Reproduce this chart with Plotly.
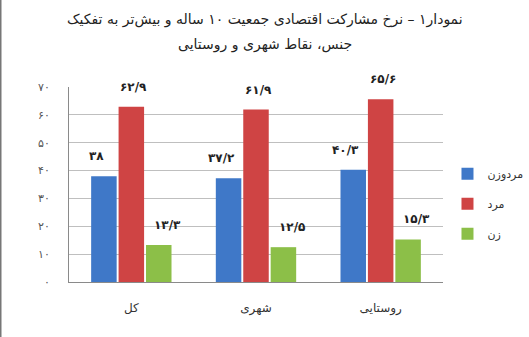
import plotly.graph_objects as go

categories = ["کل", "شهری", "روستایی"]
series_names = ["مردوزن", "مرد", "زن"]
both_values = [38.0, 37.2, 40.3]
male_values = [62.9, 61.9, 65.6]
female_values = [13.3, 12.5, 15.3]
y_ticks = [0, 10, 20, 30, 40, 50, 60, 70]
title_lines = ["نمودار۱ – نرخ مشارکت اقتصادی جمعیت ۱۰ ساله و بیش‌تر به تفکیک",
               "جنس، نقاط شهری و روستایی"]

colors = ["#3F78C8", "#CF4444", "#8CBF48"]
FONT = "DejaVu Sans"

def fa(v):
    s = ("%g" % v).replace(".", "/")
    return s.translate(str.maketrans("0123456789", "۰۱۲۳۴۵۶۷۸۹"))

fig = go.Figure()
all_series = [both_values, male_values, female_values]
for name, vals, col in zip(series_names, all_series, colors):
    fig.add_trace(go.Bar(
        x=categories, y=vals, name=name,
        marker=dict(color=col, line=dict(width=0)),
        legendgroup=name,
    ))

label_shift = [-35, 2, 36]
for vals, xs in zip(all_series, label_shift):
    for c, v in zip(categories, vals):
        fig.add_annotation(
            x=c, y=v, text="<b>" + fa(v) + "</b>", showarrow=False,
            xshift=xs, yshift=20, yanchor="middle",
            font=dict(family=FONT, size=12, color="#222222"),
        )

# title lines
for line, ypos in zip(title_lines, [1 + (87 - 20) / 195, 1 + (87 - 45) / 195]):
    fig.add_annotation(
        xref="paper", yref="paper", x=(264.5 - 69) / 374, y=ypos,
        xanchor="center", yanchor="middle", text=line, showarrow=False,
        font=dict(family=FONT, size=14, color="#222222"),
    )

fig.update_layout(
    width=529, height=337,
    margin=dict(l=69, r=86, t=87, b=55, autoexpand=False),
    paper_bgcolor="white", plot_bgcolor="white",
    barmode="group", bargap=0.34, bargroupgap=0.07,
    legend=dict(
        x=1.012, xanchor="left", y=0.63, yanchor="top",
        font=dict(family=FONT, size=11, color="#333333"),
        itemwidth=30, tracegroupgap=11, traceorder="grouped",
        bgcolor="rgba(0,0,0,0)",
    ),
    xaxis=dict(
        showgrid=False, showline=True, linecolor="#8A8A8A", linewidth=1,
        tickfont=dict(family=FONT, size=12, color="#333333"),
        ticklabelstandoff=15,
    ),
    yaxis=dict(
        range=[0, 70], tickvals=y_ticks, ticktext=[fa(t) for t in y_ticks],
        showgrid=True, gridcolor="#BFBFBF", gridwidth=1,
        showline=True, linecolor="#8A8A8A", linewidth=1,
        zeroline=False,
        tickfont=dict(family=FONT, size=11, color="#555555"),
        ticklabelstandoff=16,
    ),
    showlegend=True,
)

fig.add_shape(type="line", x0=-69/374, x1=-69/374, y0=-55/195, y1=1 + 87/195,
              xref="paper", yref="paper", line=dict(color="#777777", width=3))

fig.write_html("out.html")
